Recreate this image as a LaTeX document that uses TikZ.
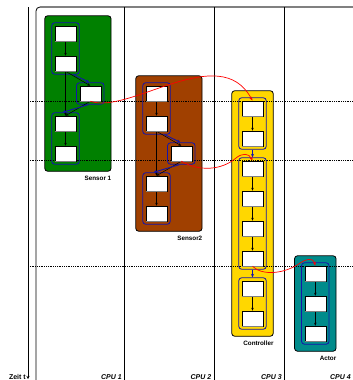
\documentclass[tikz,border=0pt]{standalone}
\usepackage{fontspec}
\setmainfont{Liberation Sans}
\usetikzlibrary{arrows.meta,fit}
\definecolor{sgreen}{RGB}{0,128,0}
\definecolor{sbrown}{RGB}{160,64,0}
\definecolor{cyellow}{RGB}{255,215,0}
\definecolor{ateal}{RGB}{0,139,139}
\definecolor{gblue}{RGB}{20,20,170}
\definecolor{fgray}{RGB}{128,128,128}
\pgfdeclarelayer{bg}\pgfdeclarelayer{mid}\pgfsetlayers{bg,mid,main}
\begin{document}
\begin{tikzpicture}[x=1pt,y=-1pt,
  task/.style={draw=black, fill=white, line width=0.5pt, minimum width=21pt, minimum height=15pt, inner sep=0pt},
  grp/.style={draw=gblue, line width=0.8pt, rounded corners=3pt, inner sep=3pt},
  comp/.style={draw=black, line width=0.8pt, rounded corners=3pt, inner sep=10pt},
  tarr/.style={draw=black, line width=0.5pt, -{Stealth[length=3pt,width=2.4pt]}},
  garr/.style={draw=gblue, line width=0.9pt, -{Stealth[length=3.5pt,width=3pt]}},
  rarr/.style={draw=red, line width=0.7pt, -{Stealth[length=4pt,width=3pt]}},
  clabel/.style={font=\bfseries\fontsize{6.3}{7}\selectfont, anchor=north east, inner sep=0pt},
  cpulabel/.style={font=\bfseries\itshape\fontsize{7}{8}\selectfont, anchor=base east, inner sep=0pt},
  tline/.style={dash pattern=on 0.8pt off 1pt, line width=0.8pt}
]
\useasboundingbox (0,0) rectangle (353,380);

% frame and time axis
\begin{pgfonlayer}{bg}
\draw[line width=0.8pt, rounded corners=4pt] (36,380) -- (36,7) -- (353,7);
\draw[fgray, line width=1.3pt] (40,7) -- (353,7);
\foreach \x in {124,214,284} \draw[line width=0.8pt] (\x,7) -- (\x,380);
\end{pgfonlayer}
\coordinate (t0) at (28,7);
\coordinate (t1) at (28,379);
\draw[line width=0.8pt, -{Stealth[length=3pt,width=3pt]}] (t0) -- (t1);
\node[font=\bfseries\fontsize{7}{8}\selectfont, anchor=base east, inner sep=0pt] (zeit) at (26,379) {Zeit t};

% dotted time lines
\begin{pgfonlayer}{mid}
\foreach \y in {101,160.5,266} \draw[tline] (28,\y) -- (353,\y);
\end{pgfonlayer}

% Sensor 1
\node[task] (s1b1) at (65.5,33.5) {};
\node[task] (s1b2) at (65.5,63.5) {};
\node[task] (s1b3) at (90.3,93.5) {};
\node[task] (s1b4) at (65.5,123.5) {};
\node[task] (s1b5) at (65.5,153.5) {};
\node[grp, fit=(s1b1)(s1b2)] (s1g1) {};
\node[grp, fit=(s1b3)] (s1g2) {};
\node[grp, fit=(s1b4)(s1b5)] (s1g3) {};
\begin{pgfonlayer}{bg}
\node[comp, fill=sgreen, fit=(s1b1)(s1b3)(s1b5)] (s1c) {};
\end{pgfonlayer}
\node[clabel] (s1l) at ([yshift=-4pt]s1c.south east) {Sensor 1};
\draw[tarr] (s1b1) -- (s1b2);
\draw[tarr] (s1b2) -- (s1b4);
\draw[tarr] (s1b4) -- (s1b5);
\draw[tarr] (s1b2.south) -- (s1b3.north);
\draw[tarr] (s1b3.south) -- (s1b4.north);
\draw[garr] ([xshift=-6pt]s1g1.south east) -- ([xshift=-1pt]s1g2.north);
\draw[garr] ([xshift=-2pt]s1g2.south) -- ([xshift=-3pt]s1g3.north);

% Sensor 2
\node[task] (s2b1) at (156.5,93.5) {};
\node[task] (s2b2) at (156.5,123.5) {};
\node[task] (s2b3) at (181.3,153.5) {};
\node[task] (s2b4) at (156.5,183.5) {};
\node[task] (s2b5) at (156.5,213.5) {};
\node[grp, fit=(s2b1)(s2b2)] (s2g1) {};
\node[grp, fit=(s2b3)] (s2g2) {};
\node[grp, fit=(s2b4)(s2b5)] (s2g3) {};
\begin{pgfonlayer}{bg}
\node[comp, fill=sbrown, fit=(s2b1)(s2b3)(s2b5)] (s2c) {};
\end{pgfonlayer}
\node[clabel] (s2l) at ([yshift=-4pt]s2c.south east) {Sensor2};
\draw[tarr] (s2b1) -- (s2b2);
\draw[tarr] (s2b2) -- (s2b4);
\draw[tarr] (s2b4) -- (s2b5);
\draw[tarr] (s2b2.south) -- (s2b3.north);
\draw[tarr] (s2b3.south) -- (s2b4.north);
\draw[garr] ([xshift=-6pt]s2g1.south east) -- ([xshift=-1pt]s2g2.north);
\draw[garr] ([xshift=-2pt]s2g2.south) -- ([xshift=-3pt]s2g3.north);

% Controller
\foreach \i/\y in {1/108.5,2/138.5,3/168.5,4/198.5,5/228.5,6/258.5,7/288.5,8/318.5}
  \node[task] (c\i) at (252.5,\y) {};
\node[grp, fit=(c1)(c2)] (cgA) {};
\node[grp, fit=(c3)(c6)] (cgB) {};
\node[grp, fit=(c7)(c8)] (cgC) {};
\begin{pgfonlayer}{bg}
\node[comp, fill=cyellow, fit=(c1)(c8)] (cc) {};
\end{pgfonlayer}
\node[clabel] (cl) at ([yshift=-4pt]cc.south east) {Controller};
\draw[tarr] (c1) -- (c2);
\draw[tarr] (c3) -- (c4);
\draw[tarr] (c4) -- (c5);
\draw[tarr] (c5) -- (c6);
\draw[tarr] (c7) -- (c8);
\draw[garr] (cgA) -- (cgB);
\draw[garr] (cgB) -- (cgC);

% Actor
\node[task] (a1) at (315.3,273.5) {};
\node[task] (a2) at (315.3,303.5) {};
\node[task] (a3) at (315.3,333.5) {};
\node[grp, fit=(a1)(a3)] (ag) {};
\begin{pgfonlayer}{bg}
\node[comp, fill=ateal, fit=(a1)(a3)] (ac) {};
\end{pgfonlayer}
\node[clabel] (al) at ([yshift=-4pt]ac.south east) {Actor};
\draw[tarr] (a1) -- (a2);
\draw[tarr] (a2) -- (a3);

% box shadows
\foreach \n in {s1b1,s1b2,s1b3,s1b4,s1b5,s2b1,s2b2,s2b3,s2b4,s2b5,c1,c2,c3,c4,c5,c6,c7,c8,a1,a2,a3}
  \draw[fgray, line width=1pt] ([xshift=0.5pt]\n.south west) -- (\n.south east);

% red communication arrows
\draw[rarr] (s1b3.south) .. controls (130,115) and (220,40) .. (c1.north);
\draw[rarr] (s2b3.south) .. controls (200,172) and (222,170) .. (236,158) .. controls (242,153) and (249,153) .. (c3.north);
\draw[rarr] (c6.south) .. controls (262,276) and (285,274) .. (300,263) .. controls (306,259) and (313,257) .. (a1.north);

% CPU labels
\node[cpulabel] (cpu1) at (122,379) {CPU 1};
\node[cpulabel] (cpu2) at (211.5,379) {CPU 2};
\node[cpulabel] (cpu3) at (282,379) {CPU 3};
\node[cpulabel] (cpu4) at (351,379) {CPU 4};
\end{tikzpicture}
\end{document}
